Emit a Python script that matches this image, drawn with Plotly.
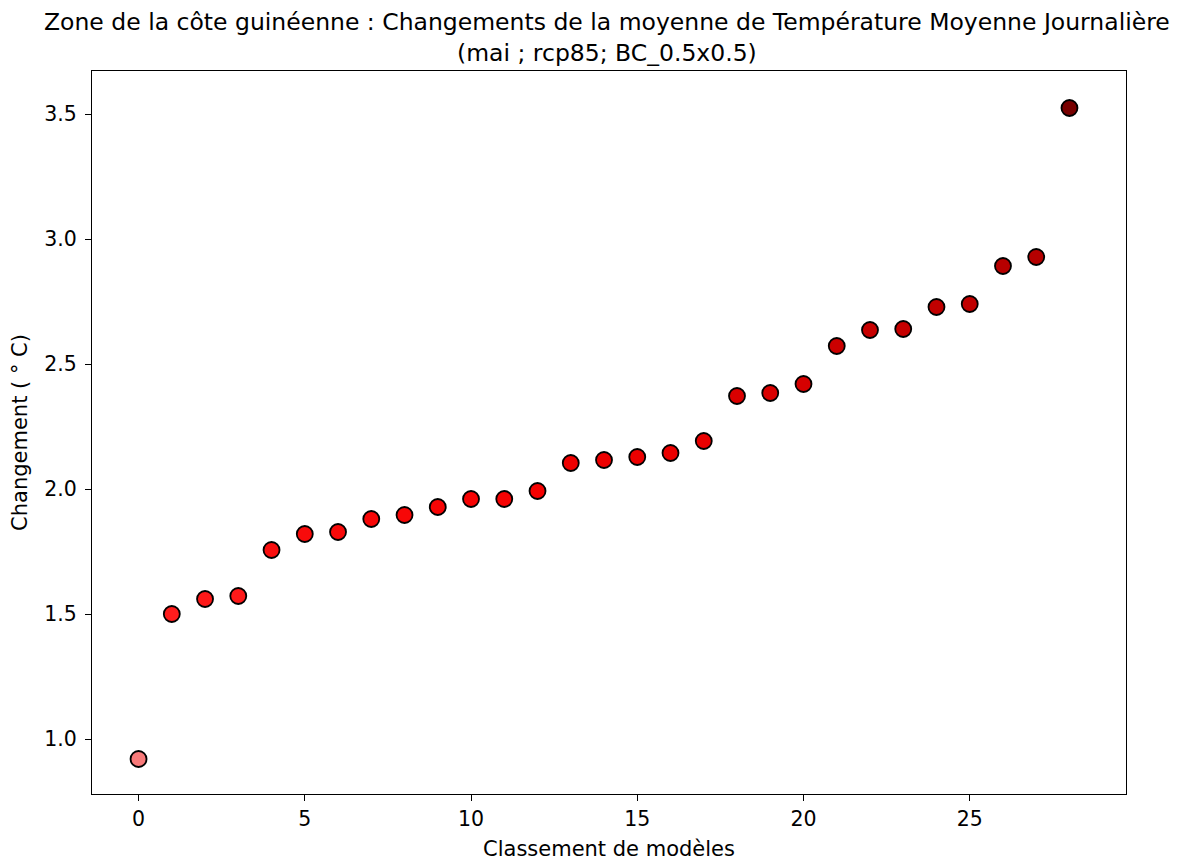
import plotly.graph_objects as go

# Classement des modèles (rang) et changement de température (°C)
rang = list(range(29))
changement = [0.92, 1.50, 1.56, 1.572, 1.756, 1.82, 1.828, 1.88, 1.896, 1.928,
              1.96, 1.96, 1.992, 2.104, 2.116, 2.128, 2.144, 2.192, 2.372, 2.384,
              2.42, 2.572, 2.636, 2.64, 2.728, 2.74, 2.892, 2.928, 3.524]

x_ticks = [0, 5, 10, 15, 20, 25]
y_ticks = [1.0, 1.5, 2.0, 2.5, 3.0, 3.5]

titre = ("Zone de la côte guinéenne : Changements de la moyenne de Température Moyenne Journalière"
         "<br>(mai ; rcp85; BC_0.5x0.5)")

echelle = [[0.0, "#f87a7a"], [0.2, "#ff2020"], [0.42, "#f50000"],
           [0.65, "#c80000"], [0.8, "#b00000"], [1.0, "#780000"]]

data = [go.Scatter(x=rang, y=changement, mode="markers",
                   marker=dict(size=16, color=changement, colorscale=echelle,
                               cmin=min(changement), cmax=max(changement),
                               line=dict(color="black", width=1.8)),
                   showlegend=False)]

police = "DejaVu Sans, sans-serif"
axe = dict(showline=True, linecolor="black", linewidth=1.2, mirror=True,
           ticks="outside", ticklen=6, tickcolor="black", showgrid=False,
           zeroline=False, automargin=False, tickfont=dict(size=20.5, color="black"))

# la page ajoute 8 px de marge autour du graphique
layout = go.Layout(
    xaxis=dict(axe, range=[-1.4, 29.7], tickvals=x_ticks,
               title=dict(text="Classement de modèles", font=dict(size=21, color="black"),
                          standoff=11)),
    yaxis=dict(axe, range=[0.78, 3.672], tickvals=y_ticks, tickformat=".1f",
               ticklabelstandoff=4,
               title=dict(text="Changement ( ° C)", font=dict(size=21, color="black"),
                          standoff=14)),
    annotations=[
        dict(text=titre, xref="paper", yref="paper", x=0.498, y=1.0457,
             xanchor="center", yanchor="middle", showarrow=False, borderpad=0,
             font=dict(family=police, size=23.5, color="black")),
    ],
    font=dict(family=police, color="black"),
    width=1191, height=859,
    margin=dict(l=84, r=73, t=63, b=73),
    paper_bgcolor="white", plot_bgcolor="white",
)

fig = go.Figure(data=data, layout=layout)
fig.write_html("out.html")
